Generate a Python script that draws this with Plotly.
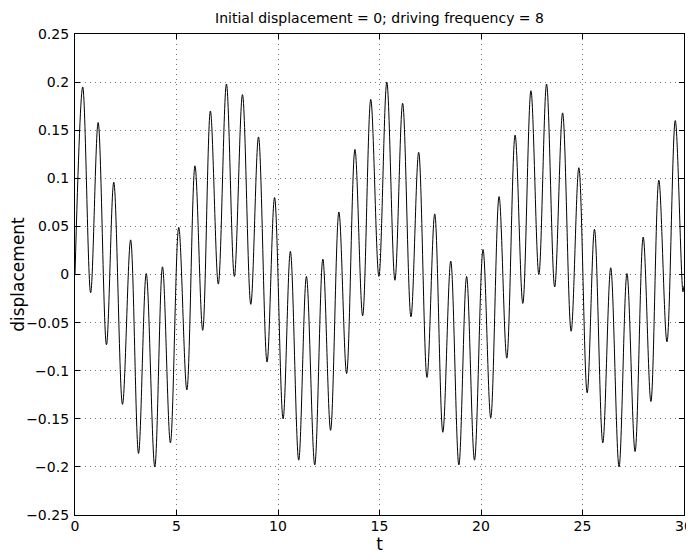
import plotly.graph_objects as go

# extrema of the displacement curve (t, displacement)
t_vals = [0.0, 0.38, 0.77, 1.14, 1.55, 1.91, 2.34, 2.74, 3.13, 3.51, 3.93,
          4.31, 4.70, 5.11, 5.51, 5.91, 6.29, 6.67, 7.06, 7.46, 7.85,
          8.25, 8.66, 9.04, 9.46, 9.83, 10.25, 10.61, 11.02, 11.40, 11.81,
          12.21, 12.59, 13.00, 13.38, 13.79, 14.17, 14.57, 14.97, 15.36, 15.76,
          16.14, 16.55, 16.93, 17.34, 17.72, 18.12, 18.51, 18.91, 19.29, 19.68,
          20.10, 20.48, 20.89, 21.27, 21.68, 22.06, 22.46, 22.85, 23.23, 23.63,
          24.02, 24.44, 24.82, 25.23, 25.59, 26.00, 26.39, 26.80, 27.19, 27.59,
          27.99, 28.37, 28.76, 29.16, 29.57, 29.95, 30.0]
disp_vals = [0.0, 0.195, -0.019, 0.158, -0.073, 0.096, -0.135, 0.036, -0.186, 0.001, -0.200,
             0.008, -0.175, 0.049, -0.120, 0.113, -0.058, 0.170, -0.010, 0.198, -0.002,
             0.187, -0.031, 0.143, -0.091, 0.080, -0.150, 0.024, -0.193, -0.002, -0.198,
             0.016, -0.162, 0.065, -0.103, 0.130, -0.043, 0.182, -0.002, 0.200, -0.006,
             0.178, -0.044, 0.127, -0.107, 0.063, -0.164, 0.014, -0.198, -0.002, -0.193,
             0.026, -0.149, 0.081, -0.087, 0.145, -0.030, 0.191, 0.000, 0.198, -0.013,
             0.168, -0.059, 0.111, -0.123, 0.047, -0.175, 0.007, -0.200, 0.001, -0.184,
             0.039, -0.132, 0.098, -0.070, 0.160, -0.018, -0.012]

x_ticks = [0, 5, 10, 15, 20, 25, 30]
y_ticks = [-0.25, -0.2, -0.15, -0.1, -0.05, 0, 0.05, 0.1, 0.15, 0.2, 0.25]
y_labels = ["\u22120.25", "\u22120.2", "\u22120.15", "\u22120.1", "\u22120.05", "0",
            "0.05", "0.1", "0.15", "0.2", "0.25"]

FONT = "DejaVu Sans, Liberation Sans, Arial, sans-serif"

fig = go.Figure(go.Scatter(
    x=t_vals, y=disp_vals, mode="lines",
    line=dict(color="black", width=1, shape="spline", smoothing=1.0),
    showlegend=False,
))

axis_common = dict(
    showline=True, linecolor="black", linewidth=1.3, mirror="ticks",
    ticks="inside", ticklen=5, tickcolor="black",
    showgrid=True, gridcolor="rgba(0,0,0,0.55)", gridwidth=1, griddash="1px,4px",
    zeroline=False, tickfont=dict(size=14, color="black"), automargin=False,
)

# the page body adds an 8px offset, so the figure is 8px smaller than the window
fig.update_layout(
    width=686, height=547,
    paper_bgcolor="white", plot_bgcolor="white",
    font=dict(family=FONT, size=14, color="black"),
    title=dict(text="Initial displacement = 0; driving frequency = 8",
               x=0.5, xref="paper", y=1 - 10.5 / 547, yref="container", yanchor="middle",
               font=dict(size=14), automargin=False),
    margin=dict(l=67, r=10, t=26, b=40),
    xaxis=dict(range=[0, 30], tickvals=x_ticks, ticklabelstandoff=-2,
               title=dict(text="t", standoff=0), **axis_common),
    yaxis=dict(range=[-0.25, 0.25], tickvals=y_ticks, ticktext=y_labels, ticklabelstandoff=2,
               title=dict(text="displacement", standoff=0), **axis_common),
)

fig.write_html("out.html")
